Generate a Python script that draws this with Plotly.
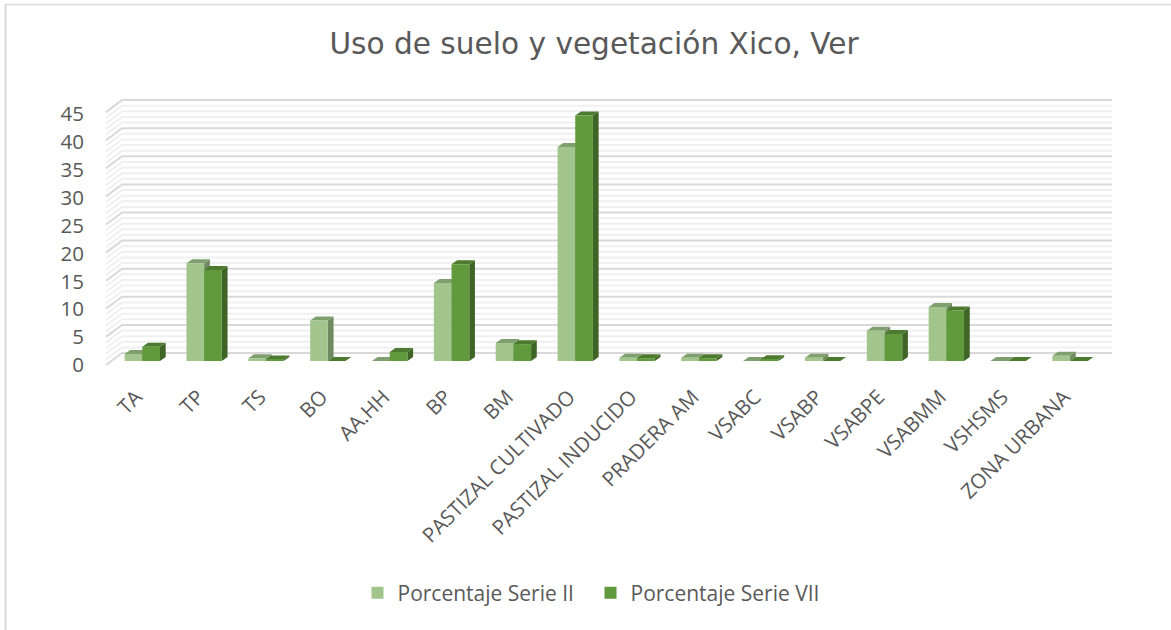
import plotly.graph_objects as go

categories = ["TA", "TP", "TS", "BO", "AA.HH", "BP", "BM", "PASTIZAL CULTIVADO",
              "PASTIZAL INDUCIDO", "PRADERA AM", "VSABC", "VSABP", "VSABPE",
              "VSABMM", "VSHSMS", "ZONA URBANA"]
serie_ii = [1.25, 17.4, 0.5, 7.2, 0.0, 13.9, 3.2, 38.1, 0.6, 0.6, 0.0, 0.6, 5.4, 9.6, 0.0, 0.95]
serie_vii = [2.55, 16.2, 0.25, 0.0, 1.6, 17.2, 3.0, 43.7, 0.5, 0.5, 0.3, 0.0, 4.8, 9.0, 0.0, 0.0]
y_ticks = [0, 5, 10, 15, 20, 25, 30, 35, 40, 45]
minor_ticks = [v for v in range(0, 46) if v % 5]
title_text = "Uso de suelo y vegetación Xico, Ver"
series_names = ["Porcentaje Serie II", "Porcentaje Serie VII"]

W, H = 1171, 630
TEXT = "#595959"
LIGHT, LIGHT_TOP, LIGHT_SIDE = "#A2C58E", "#7F9F6E", "#6F8A60"
DARK, DARK_TOP, DARK_SIDE = "#609A3C", "#4C7A2E", "#3F6526"
MAJOR, MINOR = "#D9D9D9", "#F0F0F0"

# plot-area pixels and scales
PX_L, PX_R, PX_T, PX_B = 85, 1120, 90, 380
CAT_PX = 61.85
UNIT_PX = 5.62
X0_PX = 142.3      # centre of first category
Y0_PX = 361.0      # bar base
BAR_W = 0.286
LABEL_SCALE = 251 / 253
xr = [(PX_L - X0_PX) / CAT_PX, (PX_R - X0_PX) / CAT_PX]
yr = [(Y0_PX - PX_B) / UNIT_PX, (Y0_PX - PX_T) / UNIT_PX]
dxu = lambda px: px / CAT_PX
dyu = lambda px: px / UNIT_PX

# depth offsets
BAR_DX, BAR_DY = dxu(5.7), dyu(4)
WALL_FRONT_X = dxu(106 - X0_PX)
WALL_BACK_X = dxu(122 - X0_PX)
WALL_END_X = dxu(1112 - X0_PX)
WALL_BACK_Y = dyu(8)
WALL_FRONT_Y = dyu(-4)

fig = go.Figure()


def wall(values, color, width):
    xs, ys = [], []
    for v in values:
        xs += [WALL_FRONT_X, WALL_BACK_X, WALL_END_X, None]
        ys += [v + WALL_FRONT_Y, v + WALL_BACK_Y, v + WALL_BACK_Y, None]
    fig.add_trace(go.Scatter(x=xs, y=ys, mode="lines", showlegend=False, hoverinfo="skip",
                             line=dict(color=color, width=width)))


wall(minor_ticks, MINOR, 2)
wall(y_ticks, MAJOR, 2)


def faces(values, left_offset, top_color, side_color):
    sx, sy, tx, ty = [], [], [], []
    for i, v in enumerate(values):
        l = i + left_offset
        r = l + BAR_W
        tx += [l, l + BAR_DX, r + BAR_DX, r, l, None]
        ty += [v, v + BAR_DY, v + BAR_DY, v, v, None]
        sx += [r, r + BAR_DX, r + BAR_DX, r, r, None]
        sy += [0, BAR_DY, v + BAR_DY, v, 0, None]
    for xs, ys, c in ((sx, sy, side_color), (tx, ty, top_color)):
        fig.add_trace(go.Scatter(x=xs, y=ys, mode="lines", fill="toself", fillcolor=c,
                                 line=dict(width=0, color=c), showlegend=False, hoverinfo="skip"))


faces(serie_ii, -BAR_W, LIGHT_TOP, LIGHT_SIDE)
faces(serie_vii, 0, DARK_TOP, DARK_SIDE)

# front faces sit on an overlaying pair of axes so they cover the depth faces
x_pos = list(range(len(categories)))
for name, vals, col in zip(series_names, (serie_ii, serie_vii), (LIGHT, DARK)):
    fig.add_trace(go.Bar(x=x_pos, y=vals, name=name, marker=dict(color=col, line=dict(width=0)),
                         xaxis="x2", yaxis="y2"))

# chart frame (left and top edges only are visible in the picture)
frame = [
    dict(type="line", xref="paper", yref="paper", x0=5.5 / W, x1=5.5 / W, y0=0, y1=1 - 4 / H,
         line=dict(color=MAJOR, width=2)),
    dict(type="line", xref="paper", yref="paper", x0=5 / W, x1=1, y0=1 - 4.5 / H, y1=1 - 4.5 / H,
         line=dict(color=MAJOR, width=1.5)),
]

dom_x = [PX_L / W, PX_R / W]
dom_y = [1 - PX_B / H, 1 - PX_T / H]
fig.update_layout(
    width=W, height=H, autosize=False,
    margin=dict(l=0, r=0, t=0, b=0, autoexpand=False),
    paper_bgcolor="white", plot_bgcolor="rgba(0,0,0,0)",
    barmode="group", bargap=1 - 2 * BAR_W, bargroupgap=0, showlegend=True, shapes=frame,
    font=dict(family="Open Sans", color=TEXT),
    title=dict(text=title_text, x=594 / W, xanchor="center", y=1 - 44 / H, yanchor="middle",
               font=dict(family="DejaVu Sans", size=29.6, color=TEXT)),
    legend=dict(orientation="h", x=590.5 / W, xanchor="center", y=1 - 593 / H, yanchor="middle",
                font=dict(family="Open Sans", size=21, color=TEXT), traceorder="normal",
                entrywidth=188, entrywidthmode="pixels", bgcolor="rgba(0,0,0,0)"),
    xaxis=dict(domain=dom_x, range=xr, tickmode="array", tickvals=x_pos, ticktext=categories,
               tickangle=-45, showgrid=False, zeroline=False, showline=False, ticks="",
               ticklabelshift=-6,
               tickfont=dict(family="Open Sans", size=20.5, color=TEXT)),
    yaxis=dict(domain=dom_y, range=yr, tickmode="array",
               tickvals=[v * LABEL_SCALE + WALL_FRONT_Y for v in y_ticks],
               ticktext=[str(v) for v in y_ticks],
               showgrid=False, zeroline=False, showline=False, ticks="",
               tickfont=dict(family="Open Sans", size=20.5, color=TEXT)),
    xaxis2=dict(domain=dom_x, range=xr, overlaying="x", visible=False, anchor="y2"),
    yaxis2=dict(domain=dom_y, range=yr, overlaying="y", visible=False, anchor="x2"),
)

fig.write_html("out.html", config={"displayModeBar": False},
               post_script="document.body.style.margin='0';document.body.style.overflow='hidden';")
